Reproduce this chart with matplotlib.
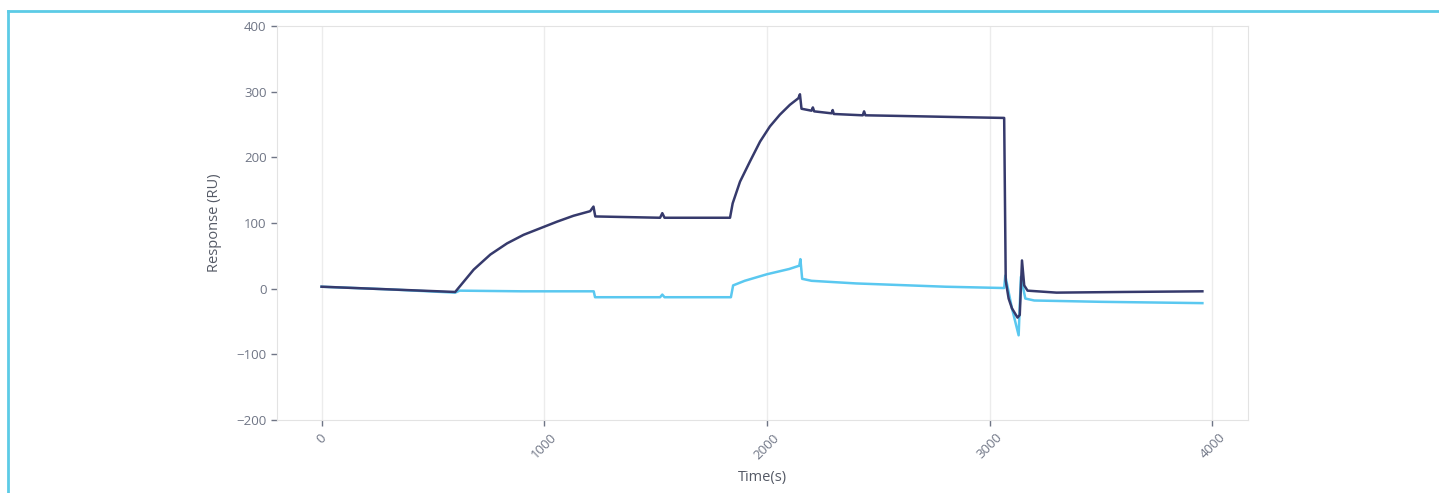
import matplotlib.pyplot as plt
from matplotlib.lines import Line2D

plt.rcParams['font.family'] = ['Open Sans', 'DejaVu Sans']

# sensorgram, active channel
t_dark = [0, 300, 600, 683, 758, 833, 907, 982, 1057, 1131, 1206, 1221, 1229,
          1520, 1530, 1540, 1834, 1846, 1879, 1924, 1969, 2013, 2058, 2103, 2141,
          2148, 2155, 2200, 2206, 2212, 2290, 2295, 2300, 2430, 2436, 2442, 2600,
          2900, 3065, 3072, 3085, 3100, 3125, 3135, 3145, 3155, 3170, 3300, 3600, 3955]
r_dark = [3, -1, -5, 29, 52, 69, 82, 92, 102, 111, 118, 125, 110,
          108, 115, 108, 108, 130, 163, 194, 224, 247, 265, 280, 290,
          296, 274, 271, 276, 270, 267, 272, 266, 264, 270, 264, 263,
          261, 260, 12, -15, -30, -44, -40, 43, 5, -3, -6, -5, -4]

# reference channel
t_light = [0, 300, 600, 620, 900, 1222, 1228, 1520, 1530, 1540, 1838, 1848, 1900,
           2000, 2100, 2145, 2150, 2158, 2200, 2400, 2800, 3065, 3070, 3100, 3130,
           3140, 3160, 3200, 3500, 3955]
r_light = [3, -1, -6, -3, -4, -4, -13, -13, -9, -13, -13, 5, 12,
           22, 30, 35, 45, 15, 12, 8, 3, 1, 20, -30, -71,
           18, -15, -18, -20, -22]

fig = plt.figure(figsize=(14.39, 4.93), dpi=100)
ax = fig.add_axes([0.1925, 0.148, 0.6748, 0.7993])

ax.plot(t_light, r_light, color='#5ac8f0', lw=1.8, zorder=3)
ax.plot(t_dark, r_dark, color='#363a6c', lw=1.8, zorder=4)

ax.set_xlim(-200, 4160)
ax.set_ylim(-200, 400)
ax.set_xticks([0, 1000, 2000, 3000, 4000])
ax.set_yticks([-200, -100, 0, 100, 200, 300, 400])
ax.set_yticklabels(['\u2212200', '\u2212100', '0', '100', '200', '300', '400'])
ax.grid(axis='x', color='#ececec', lw=1)
ax.set_axisbelow(True)

txt = '#6f7585'
for s in ax.spines.values():
    s.set_color('#e3e3e3')
ax.tick_params(colors=txt, labelsize=9.5, length=4, width=1)
ax.tick_params(axis='x', labelrotation=45, pad=4)
for lab in ax.get_xticklabels():
    lab.set_ha('center')

ax.set_xlabel('Time(s)', color='#555a66', fontsize=10.5, labelpad=6)
ax.set_ylabel('Response (RU)', color='#555a66', fontsize=10.5, labelpad=10)

# panel frame
fig.add_artist(Line2D([8 / 1439, 8 / 1439], [0, 1 - 11 / 493],
                      transform=fig.transFigure, color='#5ccbe6', lw=2))
fig.add_artist(Line2D([8 / 1439, 1], [1 - 11 / 493, 1 - 11 / 493],
                      transform=fig.transFigure, color='#5ccbe6', lw=2))

fig.savefig('out.png', dpi=100)
